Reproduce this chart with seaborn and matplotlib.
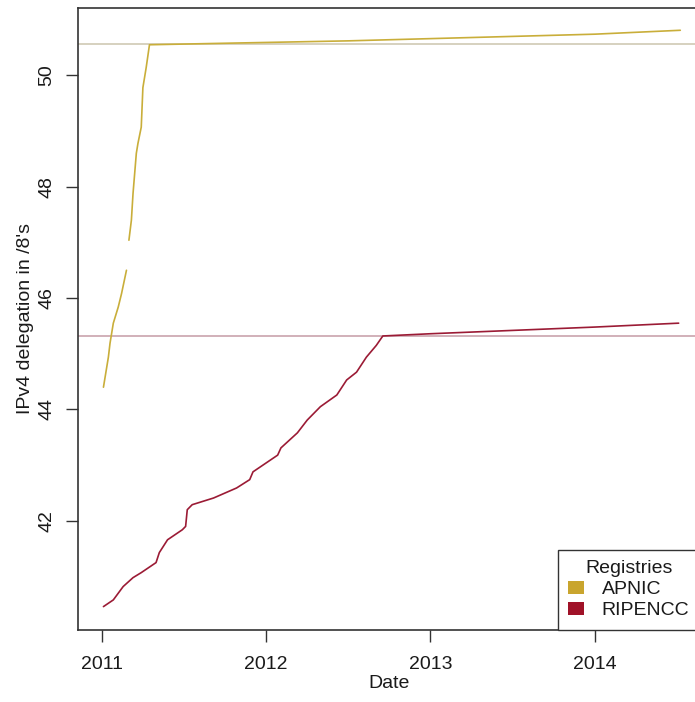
import pandas as pd
import seaborn as sns
import matplotlib.pyplot as plt
from matplotlib.patches import Patch

# values (decimal year, /8's delegated)
apnic_year = [2011.01, 2011.04, 2011.05, 2011.07, 2011.10, 2011.12, 2011.15, 2011.165,
              2011.18, 2011.19, 2011.21, 2011.22, 2011.24, 2011.25, 2011.27, 2011.29,
              2011.8, 2012.5, 2013.0, 2013.5, 2014.0, 2014.52]
apnic_val = [44.40, 44.94, 45.19, 45.55, 45.84, 46.08, 46.50, 47.04,
             47.40, 47.88, 48.60, 48.78, 49.07, 49.78, 50.14, 50.55,
             50.58, 50.62, 50.66, 50.70, 50.74, 50.81]
# the APNIC trace has a visible break between 46.5 and 47.0
apnic_seg = [0] * 7 + [1] * 15

ripe_year = [2011.01, 2011.07, 2011.13, 2011.19, 2011.24, 2011.33, 2011.35, 2011.40,
             2011.49, 2011.51, 2011.52, 2011.55, 2011.68, 2011.82, 2011.90, 2011.92,
             2012.01, 2012.07, 2012.09, 2012.19, 2012.25, 2012.33, 2012.43, 2012.49,
             2012.55, 2012.61, 2012.67, 2012.71, 2013.0, 2013.5, 2014.0, 2014.51]
ripe_val = [40.46, 40.58, 40.82, 40.98, 41.07, 41.25, 41.43, 41.66,
            41.84, 41.90, 42.20, 42.29, 42.41, 42.59, 42.74, 42.88,
            43.06, 43.18, 43.31, 43.58, 43.81, 44.05, 44.26, 44.53,
            44.67, 44.94, 45.15, 45.32, 45.36, 45.42, 45.48, 45.55]

apnic_ref = 50.56
ripe_ref = 45.32

df = pd.concat([
    pd.DataFrame({"Date": apnic_year, "val": apnic_val, "Registry": "APNIC",
                  "seg": ["a%d" % s for s in apnic_seg]}),
    pd.DataFrame({"Date": ripe_year, "val": ripe_val, "Registry": "RIPENCC", "seg": "r0"}),
])

sns.set_style("ticks")
plt.rcParams['font.family'] = ['Liberation Sans', 'DejaVu Sans']
plt.rcParams['text.color'] = '#1a1a1a'
plt.rcParams['axes.labelcolor'] = '#1a1a1a'

fig = plt.figure(figsize=(6.95, 7.02), dpi=100)
ax = fig.add_axes([0.1122, 0.1026, 0.895, 0.886])

line_cols = {"APNIC": "#c9ae3a", "RIPENCC": "#9b1b35"}
sns.lineplot(data=df, x="Date", y="val", hue="Registry", units="seg", palette=line_cols,
             linewidth=1.2, legend=False, ax=ax, estimator=None, sort=False)

ax.axhline(apnic_ref, color="#cfcab4", linewidth=1.2, zorder=0)
ax.axhline(ripe_ref, color="#c9a3ad", linewidth=1.2, zorder=0)

ax.set_xlim(2010.855, 2014.64)
ax.set_ylim(40.04, 51.21)
ax.set_xticks([2011, 2012, 2013, 2014])
ax.set_yticks([42, 44, 46, 48, 50])
ax.set_xticklabels(["2011", "2012", "2013", "2014"])
ax.set_yticklabels(["42", "44", "46", "48", "50"], rotation=90, va="center")
ax.tick_params(direction="out", length=8.5, width=1, labelsize=14,
               color="#333333", labelcolor="#1a1a1a")
ax.tick_params(axis="x", pad=10)
ax.tick_params(axis="y", pad=8)
for s in ax.spines.values():
    s.set_color("#333333")
    s.set_linewidth(1.2)

ax.set_xlabel("Date", fontsize=14, labelpad=2)
ax.set_ylabel("IPv4 delegation in /8's", fontsize=14, labelpad=3)

handles = [Patch(facecolor="#c9a52e", edgecolor="none"),
           Patch(facecolor="#a01228", edgecolor="none")]
leg = ax.legend(handles, ["APNIC", "RIPENCC"], title="Registries", loc="lower right",
                bbox_to_anchor=(1.0, 0.0), borderaxespad=0, fancybox=False,
                fontsize=14, title_fontsize=14, handletextpad=0.9,
                borderpad=0.55, labelspacing=0.2, handlelength=0.82, handleheight=0.6)
leg.get_frame().set_edgecolor("#333333")
leg.get_frame().set_linewidth(1.0)
leg.get_frame().set_alpha(1)

fig.savefig("out.png", dpi=100)
